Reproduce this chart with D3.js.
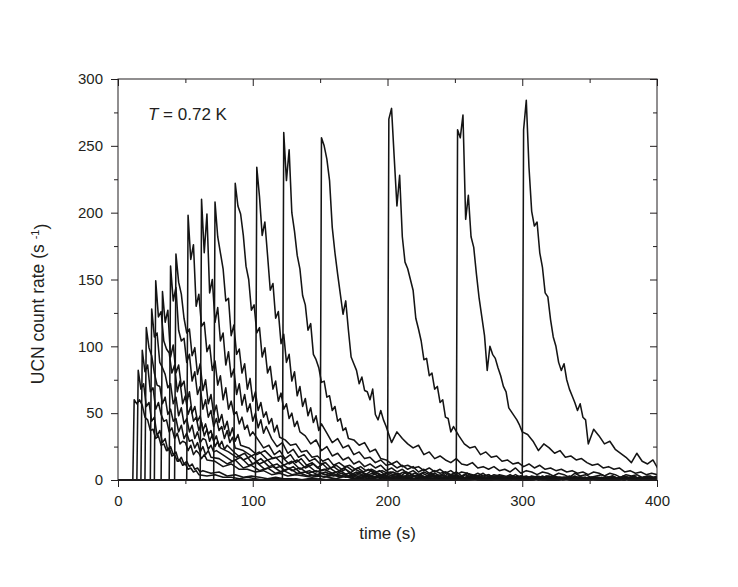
<!DOCTYPE html>
<html>
<head>
<meta charset="utf-8">
<script src="https://cdn.jsdelivr.net/npm/d3@7"></script>
<style>
body { margin: 0; background: #fff; }
text { font-family: "Liberation Sans", Arial, sans-serif; fill: #231f20; }
</style>
</head>
<body>
<div id="chart"></div>
<script>
// chart size, plot box fills 118..657 x 79..480
const width = 738, height = 587;
const margin = {top: 79, right: 81, bottom: 107, left: 118};
const plot_w = width - margin.left - margin.right;
const plot_h = height - margin.top - margin.bottom;

// axis ticks
const xMajor = [0, 100, 200, 300, 400];
const xMinor = [50, 150, 250, 350];
const yMajor = [0, 50, 100, 150, 200, 250, 300];
const yMinor = [25, 75, 125, 175, 225, 275];

// valve opening time (s) of each run
const releaseTimes = [11, 14, 17, 20, 24, 27, 32, 38, 42, 51, 61, 71, 86, 102, 122, 150, 200, 251, 300];

// counts: head every 2 s starting 1 s after opening, tail after that
const HEAD_STEP = 2;
const tailSteps = [6, 6, 6, 6, 6, 6, 6, 6, 6, 4, 4, 4, 4, 4, 4, 4, 4, 4, 4];

const head1 = [60, 57, 60, 56, 47, 45, 37, 38, 31, 33, 26, 27, 22, 24, 18, 19, 14, 15, 11, 12, 8, 9, 6, 7, 4];
const tail1 = [3,4,2,2,1,2,1,0,1,1, 0,1,0,0,1,0,1,0,0,1, 0,0,1,0,0,0,1,0,0,1, 0,0,0,1,0,0,1,0,0,0, 1,0,0,0,1,0,0,0,1,0, 0,0,1,0,0,0,1,0];

const head2 = [82, 68, 72, 55, 58, 44, 47, 33, 37, 28, 31, 22, 25, 19, 21, 14, 17, 12, 14, 10, 12, 8, 9, 6, 7];
const tail2 = [5,6,3,4,2,3,2,1,2,1, 1,0,1,1,0,1,0,0,1,0, 1,0,0,1,0,0,1,0,0,0, 1,0,0,1,0,0,0,1,0,0, 1,0,0,0,1,0,0,1,0,0, 0,1,0,0,0,1,0,0];

const head3 = [97, 81, 86, 66, 69, 53, 58, 49, 44, 45, 36, 39, 31, 35, 27, 29, 28, 22, 26, 19, 22, 20, 16, 19, 15];
const tail3 = [14,10,12,8,8,6,7,4,5,3, 4,3,2,3,2,1,3,1,2,1, 2,0,1,2,1,0,1,1,0,2, 1,0,1,0,1,1,0,1,0,0, 1,1,0,1,0,0,1,0,1,0, 0,1,0,1,0,1,0,0];

const head4 = [114, 99, 93, 80, 71, 70, 57, 62, 49, 53, 44, 46, 36, 41, 31, 35, 29, 30, 24, 28, 21, 25, 19, 22, 17];
const tail4 = [16,12,15,9,11,7,9,5,7,4, 5,3,4,2,4,2,3,1,3,1, 2,2,1,2,0,2,1,1,2,0, 1,2,0,1,1,0,2,1,0,1, 1,0,1,2,0,1,0,1,1,0, 1,0,1,0,0,1,0,1];

const head5 = [128, 107, 110, 88, 84, 79, 69, 72, 57, 62, 48, 54, 42, 46, 36, 41, 31, 36, 28, 31, 30, 23, 26, 21, 22];
const tail5 = [18,14,17,11,13,8,10,6,9,5, 6,3,5,3,4,2,4,1,3,2, 1,3,1,2,0,2,1,2,0,1, 2,1,0,2,1,0,1,1,0,2, 0,1,1,0,1,1,0,1,0,1, 1,0,1,0,1,0];

const head6 = [149, 122, 126, 104, 98, 95, 80, 86, 66, 74, 57, 63, 49, 55, 44, 47, 37, 43, 33, 38, 29, 34, 25, 29, 24];
const tail6 = [21,17,20,12,16,10,12,7,10,5, 7,4,6,3,5,2,4,3,2,4, 1,3,2,1,3,1,2,2,0,2, 1,2,0,2,1,1,2,0,1,2, 0,1,1,0,2,1,0,1,1,0, 1,0,1,1,0];

const head7 = [141, 118, 127, 92, 101, 80, 86, 70, 74, 58, 66, 50, 55, 44, 48, 37, 42, 34, 37, 29, 33, 25, 29, 23, 26];
const tail7 = [20,15,18,12,15,9,11,7,9,5, 7,4,5,3,5,2,4,2,3,1, 3,2,1,3,1,2,1,2,0,2, 1,1,2,0,1,2,1,0,2,1, 0,1,2,0,1,1,0,2,0,1, 1,0,1,1,0];

const head8 = [160, 134, 144, 112, 104, 106, 88, 94, 74, 81, 64, 70, 53, 60, 47, 52, 40, 46, 37, 40, 31, 37, 28, 32, 24];
const tail8 = [22,18,21,15,17,11,14,8,11,6, 8,5,7,3,6,3,5,2,4,2, 3,3,1,3,2,1,3,1,2,2, 0,2,1,2,1,0,2,1,1,0, 2,1,0,1,2,0,1,1,0,2, 1,0,1,1];

const head9 = [169, 148, 139, 121, 110, 113, 93, 99, 79, 87, 67, 75, 57, 64, 49, 56, 43, 49, 38, 44, 33, 39, 29, 34, 26];
const tail9 = [24,19,22,16,18,12,15,9,12,7, 9,5,8,4,6,3,5,2,4,3, 2,4,1,3,2,1,3,1,2,2, 0,2,1,2,0,2,1,1,2,0, 1,2,0,1,1,0,2,1,0,1, 1,0,2];

const head10 = [198, 165, 176, 130, 139, 115, 118, 96, 101, 82, 89, 71, 78, 60, 69, 53, 59, 49, 51, 42, 47, 38, 41, 33, 36];
const tail10 = [30,24,26,19,22,16,19,13,16,11, 13,9,12,8,10,7,9,5,8,6, 4,7,5,3,6,4,5,2,5,3, 4,2,4,3,1,4,2,3,1,3, 2,3,1,2,3,1,2,0,3,1, 2,2,0,2,1,3,1,1,2,0, 2,1,2,0,1,2,1,0,2,1, 1,0,2,1,1];

const head11 = [210, 170, 199, 140, 150, 118, 129, 104, 110, 86, 96, 77, 83, 64, 72, 56, 64, 51, 57, 44, 50, 39, 45, 35, 40];
const tail11 = [31,25,28,20,23,17,19,14,16,12, 13,9,11,8,10,7,9,6,8,5, 7,4,6,5,3,6,4,2,5,3, 4,2,4,1,3,2,4,1,3,2, 1,3,2,1,3,1,2,2,0,2, 1,3,1,2,0,2,1,2,1,0, 2,1,1,2,0,1,2,1,0,2, 1,1,0];

const head12 = [208, 182, 170, 158, 134, 136, 108, 116, 94, 98, 80, 87, 68, 76, 59, 66, 52, 58, 47, 51, 42, 46, 36, 41, 32];
const tail12 = [30,26,27,21,22,17,18,14,16,11, 13,10,11,8,10,7,8,6,7,5, 6,4,6,3,5,4,2,5,3,4, 2,4,3,1,3,2,3,1,3,2, 2,1,3,1,2,2,0,2,1,3, 1,2,1,0,2,2,1,1,2,0, 1,2,1,0,2,1,1,2,0,1];

const head13 = [222, 205, 199, 183, 160, 150, 127, 131, 110, 114, 92, 99, 80, 85, 68, 74, 59, 65, 53, 57, 46, 50, 40, 44, 36];
const tail13 = [33,27,30,22,25,18,20,15,17,12, 14,10,12,9,11,7,9,6,8,5, 7,4,6,4,5,3,6,3,4,2, 5,3,3,2,4,1,3,2,3,1, 3,2,2,1,3,1,2,2,1,3, 1,2,0,2,1,2,1,3,0,2, 1,1,2,0,2,1,1];

const head14 = [234, 212, 183, 193, 168, 142, 147, 121, 126, 102, 109, 88, 94, 74, 81, 63, 70, 55, 61, 48, 54, 43, 48, 37, 42];
const tail14 = [35,28,31,24,26,19,21,16,17,13, 15,11,12,9,11,8,10,6,8,5, 7,5,6,4,6,3,5,4,3,5, 2,4,3,2,4,2,3,1,3,2, 2,3,1,2,2,1,3,1,2,0, 2,1,2,1,0,2,1,2,0,1, 2,1,1];

const head15 = [260, 224, 247, 200, 186, 168, 158, 138, 131, 112, 117, 94, 90, 84, 73, 74, 62, 63, 52, 55, 44, 46, 37, 39, 31];
const tail15 = [30,26,28,21,23,16,15,12,14,10, 11,9,10,7,9,6,8,5,7,4, 6,5,3,5,3,4,2,4,3,2, 4,2,3,1,3,2,1,3,1,2, 2,0,2,1,2,1,0,2,1,1, 2,0,1,2,1,0,2,1];

const head16 = [256, 250, 240, 224, 189, 170, 154, 139, 124, 134, 112, 92, 87, 82, 72, 77, 67, 66, 60, 68, 49, 45, 52, 45, 40];
const tail16 = [28,36,31,27,24,26,19,21,16,18, 15,13,16,12,11,13,9,10,8,10, 7,8,6,9,5,7,6,4,6,5, 3,5,4,2,5,3,4,2,3,4, 2,3,1,3,2,3,1,2,3,1, 2];

const head17 = [270, 278, 241, 205, 228, 182, 163, 158, 150, 142, 121, 113, 104, 90, 91, 78, 80, 68, 70, 58, 60, 47, 46, 36, 40];
const tail17 = [33,27,24,25,19,21,17,18,14,15, 12,13,10,12,9,11,8,9,7,8, 6,7,5,6,4,6,5,3,5,4, 2,4,3,4,2,3,2,3];

const head18 = [262, 256, 273, 195, 213, 182, 174, 154, 136, 122, 108, 82, 100, 94, 91, 84, 78, 70, 66, 54, 51, 48, 45, 41, 36];
const tail18 = [34,29,22,27,24,20,22,17,18,15, 16,13,11,12,9,10,8,9,6,7, 5,6,4,5,4];

const head19 = [262, 284, 234, 201, 190, 193, 170, 159, 140, 137, 120, 107, 100, 88, 82, 87, 75, 68, 63, 58, 52, 57, 47, 45, 27];
const tail19 = [38,33,27,29,23,20,17,13,20,14,12,15,8];

const heads = [head1, head2, head3, head4, head5, head6, head7, head8, head9, head10,
               head11, head12, head13, head14, head15, head16, head17, head18, head19];
const tails = [tail1, tail2, tail3, tail4, tail5, tail6, tail7, tail8, tail9, tail10,
               tail11, tail12, tail13, tail14, tail15, tail16, tail17, tail18, tail19];

// build [time, rate] points for every run
const runs = releaseTimes.map((t0, k) => {
	let pts = [[0, 0], [t0, 0]];
	heads[k].forEach((v, i) => pts.push([t0 + 1 + HEAD_STEP * i, v]));
	let tEnd = t0 + 1 + HEAD_STEP * (heads[k].length - 1);
	tails[k].forEach((v, j) => pts.push([tEnd + tailSteps[k] * (j + 1), v]));
	return pts;
});

let svg = d3.select("#chart")
	.append("svg")
	.attr("width", width)
	.attr("height", height)
	.append("g")
	.attr("transform", `translate(${margin.left}, ${margin.top})`);

let x = d3.scaleLinear().domain([0, 400]).range([0, plot_w]);
let y = d3.scaleLinear().domain([0, 300]).range([plot_h, 0]);

svg.append("clipPath").attr("id", "plotclip")
	.append("rect")
	.attr("width", plot_w)
	.attr("height", plot_h + 1);

let line = d3.line()
	.x(d => x(d[0]))
	.y(d => y(d[1]));

svg.append("g")
	.attr("clip-path", "url(#plotclip)")
	.selectAll("path")
	.data(runs)
	.enter()
	.append("path")
	.attr("d", line)
	.style("fill", "none")
	.style("stroke", "#141414")
	.style("stroke-width", 1.55)
	.style("stroke-linejoin", "round");

function styleAxis(g) {
	g.select(".domain").remove();
	g.selectAll("line").attr("stroke", "#231f20");
	g.selectAll("text").style("font-size", "15px").attr("fill", "#231f20")
		.style("font-family", "'Liberation Sans', Arial, sans-serif");
}

// bottom axis (ticks out)
svg.append("g")
	.attr("transform", `translate(0, ${plot_h})`)
	.call(d3.axisBottom(x).tickValues(xMajor).tickSize(7).tickSizeOuter(0).tickPadding(8))
	.call(styleAxis);
svg.append("g")
	.attr("transform", `translate(0, ${plot_h})`)
	.call(d3.axisBottom(x).tickValues(xMinor).tickSize(4).tickSizeOuter(0).tickFormat(""))
	.call(styleAxis);

// left axis (ticks out)
svg.append("g")
	.call(d3.axisLeft(y).tickValues(yMajor).tickSize(7).tickSizeOuter(0).tickPadding(8))
	.call(styleAxis);
svg.append("g")
	.call(d3.axisLeft(y).tickValues(yMinor).tickSize(4).tickSizeOuter(0).tickFormat(""))
	.call(styleAxis);

// top and right mirror ticks point into the plot
svg.append("g")
	.call(d3.axisBottom(x).tickValues(xMajor).tickSize(7).tickSizeOuter(0).tickFormat(""))
	.call(styleAxis);
svg.append("g")
	.call(d3.axisBottom(x).tickValues(xMinor).tickSize(4).tickSizeOuter(0).tickFormat(""))
	.call(styleAxis);
svg.append("g")
	.attr("transform", `translate(${plot_w}, 0)`)
	.call(d3.axisLeft(y).tickValues(yMajor).tickSize(7).tickSizeOuter(0).tickFormat(""))
	.call(styleAxis);
svg.append("g")
	.attr("transform", `translate(${plot_w}, 0)`)
	.call(d3.axisLeft(y).tickValues(yMinor).tickSize(4).tickSizeOuter(0).tickFormat(""))
	.call(styleAxis);

// frame
svg.append("rect")
	.attr("width", plot_w)
	.attr("height", plot_h)
	.style("fill", "none")
	.style("stroke", "#231f20")
	.style("stroke-width", 1);

// temperature note
let note = svg.append("text")
	.attr("x", 30)
	.attr("y", 41)
	.style("font-size", "17px");
note.append("tspan").style("font-style", "italic").text("T");
note.append("tspan").text(" = 0.72 K");

// axis titles
svg.append("text")
	.attr("x", plot_w / 2)
	.attr("y", plot_h + 59)
	.style("text-anchor", "middle")
	.style("font-size", "17px")
	.text("time (s)");

let ylab = svg.append("text")
	.attr("transform", `translate(${44 - margin.left}, ${304 - margin.top}) rotate(-90)`)
	.style("text-anchor", "middle")
	.style("font-size", "17.5px");
ylab.append("tspan").text("UCN count rate (s ");
ylab.append("tspan").attr("dy", "-0.45em").style("font-size", "11px").text("-1");
ylab.append("tspan").attr("dy", "0.45em").text(")");
</script>
</body>
</html>
